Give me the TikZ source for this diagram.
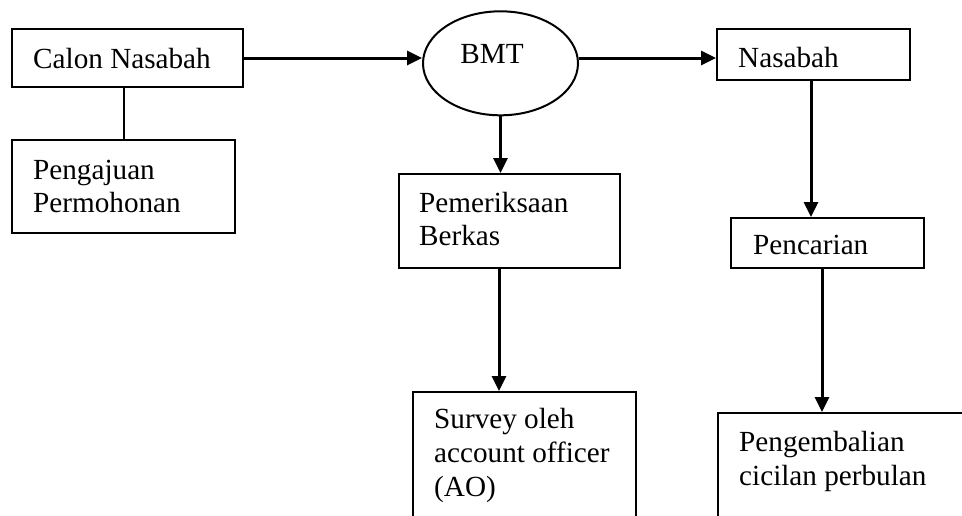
\documentclass[tikz,border=0pt]{standalone}
\usepackage{fontspec}
\setmainfont{Liberation Serif}
\usetikzlibrary{arrows.meta,shapes.geometric}
\tikzset{
  boxnode/.style={draw, line width=2pt, inner sep=0pt, rectangle},
  ovalnode/.style={draw, line width=2pt, inner sep=0pt, ellipse},
  txt/.style={anchor=base west, inner sep=0pt,
    font=\fontsize{29.2}{33.5}\selectfont},
  arr/.style={line width=3pt, -{Triangle[length=15pt,width=14pt]}},
  plain/.style={line width=2pt}
}
\begin{document}
\begin{tikzpicture}[x=1pt,y=-1pt]
\useasboundingbox (0,0) rectangle (962,515);
\clip (0,0) rectangle (962,515);
\fill[white] (0,0) rectangle (962,515);

% boxes
\node[boxnode, minimum width=231pt, minimum height=58pt] (cn) at (127.5,58) {};
\node[boxnode, minimum width=223pt, minimum height=93pt] (pp) at (123.5,186.5) {};
\node[ovalnode, minimum width=155pt, minimum height=104pt] (bmt) at (500.5,63.3) {};
\node[boxnode, minimum width=221pt, minimum height=94pt] (pb) at (509.5,221) {};
\node[boxnode, minimum width=223pt, minimum height=138pt] (sv) at (524.5,461) {};
\node[boxnode, minimum width=193pt, minimum height=51pt] (ns) at (813.5,54.5) {};
\node[boxnode, minimum width=193pt, minimum height=50pt] (pc) at (827.5,243) {};
\node[boxnode, minimum width=272pt, minimum height=117pt] (pg) at (854,471.5) {};

% texts
\node[txt] (cnt) at (33,68) {Calon Nasabah};
\node[txt] (ppt1) at (33,179) {Pengajuan};
\node[txt] (ppt2) at (33,212) {Permohonan};
\node[txt, anchor=base] (bmtt) at (492,63) {BMT};
\node[txt] (pbt1) at (419,212) {Pemeriksaan};
\node[txt] (pbt2) at (419,245.5) {Berkas};
\node[txt] (svt1) at (434,428) {Survey oleh};
\node[txt] (svt2) at (434,462) {account officer};
\node[txt] (svt3) at (434,496) {(AO)};
\node[txt] (nst) at (738,67) {Nasabah};
\node[txt] (pct) at (753,254) {Pencarian};
\node[txt] (pgt1) at (739,451) {Pengembalian};
\node[txt] (pgt2) at (739,485) {cicilan perbulan};

% connectors
\coordinate (ay) at (0,58);
\draw[plain] (pp.north |- cn.south) -- (pp.north);
\draw[arr] (cn.east |- ay) -- (bmt.west |- ay);
\draw[arr] (bmt.east |- ay) -- (ns.west |- ay);
\draw[arr] (bmt.south) -- (bmt.south |- pb.north);
\draw[arr] ([xshift=-1.5pt]bmt.south |- pb.south) -- ([xshift=-1.5pt]bmt.south |- sv.north);
\draw[arr] ([xshift=-2.5pt]ns.south) -- ([xshift=-2.5pt]ns.south |- pc.north);
\draw[arr] ([xshift=-5.5pt]pc.south) -- ([xshift=-5.5pt]pc.south |- pg.north);
\end{tikzpicture}
\end{document}
